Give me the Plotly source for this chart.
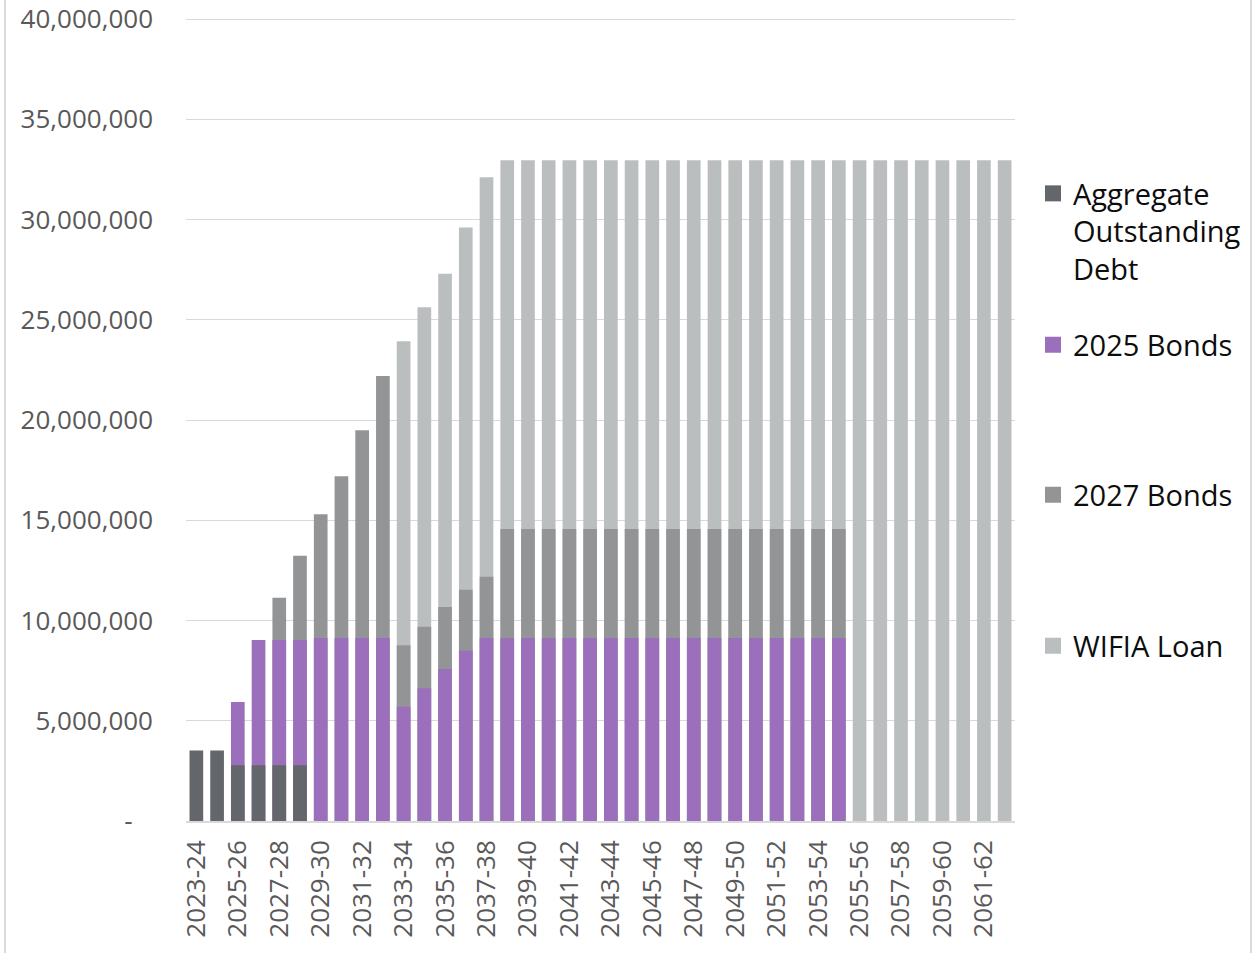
import plotly.graph_objects as go

categories = [f"{y}-{str(y + 1)[-2:]}" for y in range(2023, 2063)]

aggregate_debt = [3.52, 3.52, 2.78, 2.78, 2.78, 2.78] + [0] * 34
bonds_2025 = ([0, 0, 5.93, 9.03, 9.03, 9.03, 9.13, 9.13, 9.13, 9.13,
               5.70, 6.62, 7.58, 8.49, 9.13]
              + [9.13] * 17 + [0] * 8)
bonds_2027 = ([0, 0, 0, 0, 11.13, 13.23, 15.30, 17.20, 19.49, 22.19,
               8.76, 9.69, 10.67, 11.53, 12.18]
              + [14.56] * 17 + [0] * 8)
wifia_loan = ([0] * 10 + [23.93, 25.62, 27.29, 29.60, 32.11]
              + [32.96] * 25)

scale = 1_000_000
y_ticks = [0, 5, 10, 15, 20, 25, 30, 35, 40]
y_tick_text = ["-\u00a0\u00a0\u00a0"] + [f"{v * scale:,.0f}" for v in y_ticks[1:]]
x_tick_labels = categories[::2]

colors = {
    "agg": "#63666A",
    "b25": "#9B6FBB",
    "b27": "#939496",
    "wifia": "#BBBEBF",
}

fig = go.Figure()

# draw back to front (overlapping bars)
series = [
    ("WIFIA Loan", wifia_loan, colors["wifia"], "legend4"),
    ("2027 Bonds", bonds_2027, colors["b27"], "legend3"),
    ("2025 Bonds", bonds_2025, colors["b25"], "legend2"),
    ("Aggregate<br>Outstanding<br>Debt", aggregate_debt, colors["agg"], "legend"),
]
for name, vals, col, _ in series:
    fig.add_trace(go.Bar(
        x=categories, y=[v * scale for v in vals], name=name,
        marker=dict(color=col, line=dict(width=0)), showlegend=False,
    ))

# legend entries with square symbols
for name, vals, col, leg in series:
    fig.add_trace(go.Scatter(
        x=[None], y=[None], mode="markers", name=name,
        marker=dict(symbol="square", size=18, color=col),
        legend=leg, showlegend=True,
    ))

legend_font = dict(family="Open Sans", size=29, color="#0D0D0D")

BASE = 821          # pixel row of the zero line
TOP40 = 19          # pixel row of the 40,000,000 line
Y_TOP = 40.2        # axis top in millions
PX_PER_M = (BASE - TOP40) / 40
PLOT_TOP = BASE - PX_PER_M * Y_TOP
PLOT_H = BASE - PLOT_TOP
lx = (1033 - 186) / 829


def py(p):
    return (BASE - p) / PLOT_H


legend_common = dict(x=lx, xanchor="left", font=legend_font,
                     bgcolor="rgba(0,0,0,0)", itemsizing="trace",
                     valign="top", itemclick=False)

fig.update_layout(
    barmode="overlay",
    bargap=0.34,
    width=1253, height=953,
    margin=dict(l=186, r=238, t=PLOT_TOP, b=953 - BASE, pad=0, autoexpand=False),
    paper_bgcolor="white", plot_bgcolor="white",
    legend=dict(y=py(168), yanchor="top", **legend_common),
    legend2=dict(y=py(345), yanchor="middle", **legend_common),
    legend3=dict(y=py(495), yanchor="middle", **legend_common),
    legend4=dict(y=py(646), yanchor="middle", **legend_common),
    xaxis=dict(
        type="category", tickmode="array", tickvals=x_tick_labels,
        ticktext=x_tick_labels, tickangle=-90,
        tickfont=dict(family="Open Sans", size=26, color="#595959"),
        showgrid=False, showline=True, linecolor="#D9D9D9", linewidth=1.5,
        ticks="", ticklabelstandoff=7, automargin=False,
    ),
    yaxis=dict(
        range=[0, Y_TOP * scale], tickmode="array",
        tickvals=[v * scale for v in y_ticks], ticktext=y_tick_text,
        tickfont=dict(family="Open Sans", size=26, color="#595959"),
        showgrid=True, gridcolor="#D9D9D9", gridwidth=1.2,
        zeroline=False, showline=False, ticks="", ticklabelstandoff=32,
        ticklabeloverflow="allow", automargin=False,
    ),
    shapes=[
        dict(type="line", xref="paper", yref="paper",
             x0=(5 - 186) / 829, x1=(5 - 186) / 829, y0=-0.2, y1=1.05,
             line=dict(color="#D9D9D9", width=2)),
        dict(type="line", xref="paper", yref="paper",
             x0=(1251 - 186) / 829, x1=(1251 - 186) / 829, y0=-0.2, y1=1.05,
             line=dict(color="#D9D9D9", width=2)),
    ],
)

fig.write_html("out.html")
